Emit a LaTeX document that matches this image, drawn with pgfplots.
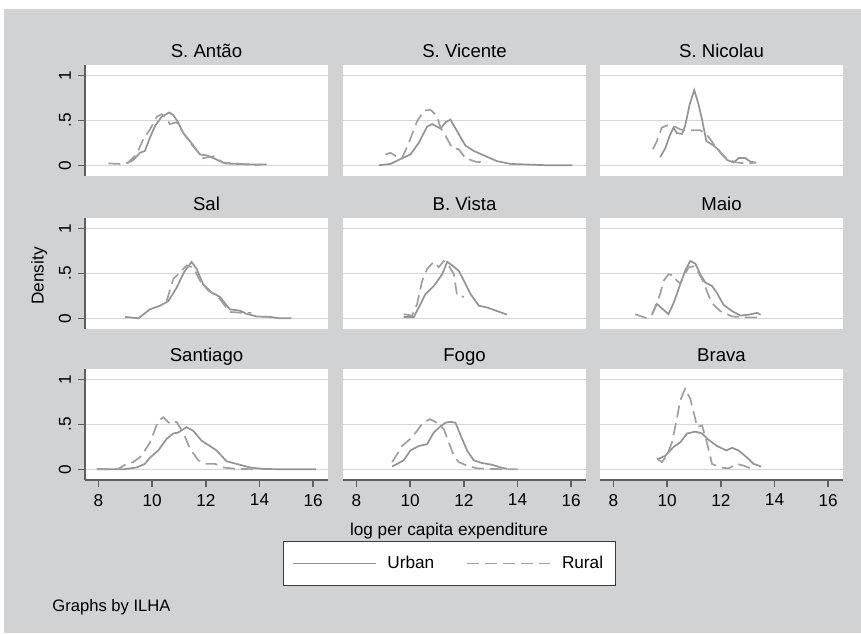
\documentclass[border=0pt]{standalone}
\usepackage{fontspec}
\setmainfont{Liberation Sans}
\usepackage{pgfplots}
\pgfplotsset{compat=1.18}
\definecolor{bgc}{RGB}{208,210,211}
\definecolor{gridc}{RGB}{214,214,214}
\definecolor{axc}{RGB}{95,95,95}
\definecolor{urbc}{RGB}{148,148,148}
\definecolor{rurc}{RGB}{160,160,160}
\definecolor{legc}{RGB}{60,60,60}

\pgfplotsset{
  panel/.style={
    scale only axis, width=121.5pt, height=55.5pt,
    xmin=7.5, xmax=16.55, ymin=-0.12, ymax=1.12,
    axis lines*=left,
    x axis line style={draw=none,-}, y axis line style={draw=none,-},
    xtick={8,10,12,14,16}, ytick={0,0.5,1},
    xticklabels={}, yticklabels={},
    tick align=outside, major tick length=3.5pt,
    xtick style={draw=none}, ytick style={draw=none},
    ymajorgrids, major grid style={draw=gridc, line width=0.75pt},
    axis background/.style={fill=white},
    /pgf/number format/assume math mode=true,
    tick label style={font=\fontsize{8.6}{10}\selectfont},
    every axis title shift=0pt,
    title style={at={(axis description cs:0.5,1)}, anchor=base, yshift=3.5pt, font=\fontsize{9.3}{11}\selectfont},
  },
  leftcol/.style={
    y axis line style={draw=axc, line width=0.75pt},
    ytick style={draw=axc, line width=0.75pt},
    yticklabels={0,.5,1}, yticklabel style={rotate=90, anchor=south},
  },
  bottomrow/.style={
    x axis line style={draw=axc, line width=0.75pt},
    xtick style={draw=axc, line width=0.75pt},
    xticklabels={8,10,12,14,16},
  },
  urb/.style={draw=urbc, line width=0.85pt, no marks},
  rur/.style={draw=rurc, line width=0.85pt, no marks, dash pattern=on 6pt off 3pt},
}

\begin{document}
\begin{tikzpicture}
\fill[white] (0,0) rectangle (430.5pt,316.5pt);
\fill[bgc] (2pt,0) rectangle (430.5pt,312pt);

% row 1
\begin{axis}[panel, leftcol, at={(42.5pt,228.5pt)}, title={S. Antão}]
\addplot[urb] coordinates {(9.05,0.02)(9.30,0.06)(9.55,0.14)(9.73,0.16)(9.92,0.31)(10.11,0.44)(10.35,0.54)(10.64,0.59)(10.79,0.56)(10.97,0.48)(11.16,0.36)(11.41,0.27)(11.78,0.12)(12.03,0.11)(12.28,0.08)(12.71,0.02)(13.14,0.015)(13.64,0.01)(14.26,0.01)};
\addplot[rur] coordinates {(8.37,0.02)(8.8,0.015)(9.1,0.03)(9.42,0.12)(9.67,0.29)(9.92,0.4)(10.17,0.54)(10.35,0.57)(10.54,0.53)(10.66,0.46)(10.91,0.48)(11.16,0.36)(11.53,0.21)(11.9,0.08)(12.28,0.1)(12.65,0.03)(13.14,0.02)(13.9,0.0)(14.1,0.01)};
\end{axis}
\begin{axis}[panel, at={(171.5pt,228.5pt)}, title={S. Vicente}]
\addplot[urb] coordinates {(8.83,0)(9.27,0.015)(9.64,0.07)(10.01,0.12)(10.32,0.25)(10.63,0.43)(10.82,0.46)(11.13,0.41)(11.32,0.48)(11.5,0.51)(11.75,0.38)(12.06,0.22)(12.37,0.16)(12.75,0.11)(13.24,0.045)(13.74,0.015)(14.48,0.007)(15.1,0)(16.04,0)};
\addplot[rur] coordinates {(9.08,0.12)(9.27,0.14)(9.52,0.09)(9.7,0.08)(9.95,0.25)(10.26,0.49)(10.51,0.61)(10.76,0.62)(11.0,0.55)(11.13,0.42)(11.32,0.33)(11.57,0.19)(11.81,0.18)(12.06,0.08)(12.43,0.04)(12.87,0.03)};
\end{axis}
\begin{axis}[panel, at={(300pt,228.5pt)}, title={S. Nicolau}]
\addplot[urb] coordinates {(9.74,0.09)(9.93,0.19)(10.11,0.34)(10.24,0.42)(10.36,0.36)(10.55,0.35)(10.67,0.44)(10.84,0.68)(11.01,0.84)(11.17,0.68)(11.3,0.51)(11.46,0.27)(11.73,0.22)(11.92,0.17)(12.23,0.06)(12.48,0.03)(12.66,0.08)(12.91,0.08)(13.1,0.04)(13.29,0.03)};
\addplot[rur] coordinates {(9.47,0.18)(9.62,0.27)(9.8,0.42)(10.05,0.45)(10.3,0.43)(10.49,0.40)(10.67,0.39)(10.92,0.39)(11.23,0.39)(11.42,0.36)(11.61,0.29)(11.79,0.21)(12.04,0.12)(12.29,0.06)(12.6,0.03)(12.98,0.02)(13.32,0.03)};
\end{axis}

% row 2
\begin{axis}[panel, leftcol, at={(42.5pt,152pt)}, title={Sal},
  ylabel={Density}, ylabel style={at={(axis description cs:-0.189,0.477)}, anchor=center, font=\fontsize{8.6}{10}\selectfont}]
\addplot[urb] coordinates {(8.99,0.015)(9.49,0)(9.92,0.1)(10.29,0.14)(10.6,0.19)(10.91,0.34)(11.18,0.51)(11.47,0.63)(11.66,0.55)(11.9,0.38)(12.21,0.29)(12.52,0.24)(12.89,0.10)(13.27,0.085)(13.51,0.05)(13.89,0.02)(14.38,0.015)(14.75,0)(15.19,0)};
\addplot[rur] coordinates {(10.54,0.19)(10.79,0.44)(11.04,0.51)(11.28,0.59)(11.53,0.57)(11.78,0.42)(12.09,0.31)(12.46,0.24)(12.89,0.07)(13.39,0.06)(13.7,0.06)};
\end{axis}
\begin{axis}[panel, at={(171.5pt,152pt)}, title={B. Vista}]
\addplot[urb] coordinates {(9.76,0.015)(10.14,0.015)(10.32,0.12)(10.57,0.27)(10.88,0.36)(11.19,0.49)(11.38,0.63)(11.57,0.59)(11.81,0.53)(12.0,0.42)(12.25,0.27)(12.56,0.14)(12.87,0.12)(13.24,0.08)(13.61,0.04)};
\addplot[rur] coordinates {(9.76,0.045)(10.07,0.03)(10.26,0.16)(10.45,0.42)(10.63,0.55)(10.88,0.63)(11.07,0.57)(11.25,0.64)(11.44,0.59)(11.63,0.49)(11.75,0.25)(12.0,0.24)};
\end{axis}
\begin{axis}[panel, at={(300pt,152pt)}, title={Maio}]
\addplot[urb] coordinates {(9.45,0.05)(9.62,0.16)(10.05,0.045)(10.24,0.17)(10.49,0.38)(10.67,0.53)(10.86,0.64)(11.05,0.61)(11.24,0.49)(11.42,0.40)(11.67,0.36)(11.86,0.28)(12.1,0.15)(12.42,0.08)(12.73,0.03)(13.04,0.04)(13.35,0.06)(13.48,0.04)};
\addplot[rur] coordinates {(8.81,0.045)(9.24,0)(9.43,0.04)(9.6,0.16)(9.74,0.27)(9.87,0.42)(10.05,0.49)(10.24,0.48)(10.36,0.42)(10.49,0.39)(10.62,0.47)(10.8,0.57)(10.99,0.58)(11.17,0.51)(11.36,0.40)(11.55,0.25)(11.73,0.15)(11.98,0.08)(12.42,0.02)(12.92,0.01)(13.48,0.01)};
\end{axis}

% row 3
\begin{axis}[panel, leftcol, bottomrow, at={(42.5pt,76.5pt)}, title={Santiago}]
\addplot[urb] coordinates {(7.94,0.0)(8.43,0)(8.93,0)(9.43,0.02)(9.73,0.06)(9.92,0.13)(10.23,0.21)(10.54,0.34)(10.79,0.40)(10.97,0.41)(11.28,0.47)(11.53,0.43)(11.84,0.32)(12.15,0.26)(12.4,0.21)(12.77,0.09)(13.14,0.06)(13.64,0.02)(14.13,0.004)(14.75,0)(16.1,0)};
\addplot[rur] coordinates {(7.94,0.005)(8.3,0)(8.74,0.005)(9.05,0.06)(9.3,0.08)(9.61,0.15)(9.92,0.30)(10.23,0.54)(10.42,0.58)(10.66,0.51)(10.91,0.53)(11.16,0.41)(11.41,0.23)(11.72,0.10)(12.03,0.06)(12.34,0.06)(12.65,0.02)(13.14,0.004)(13.89,0)};
\end{axis}
\begin{axis}[panel, bottomrow, at={(171.5pt,76.5pt)}, title={Fogo}]
\addplot[urb] coordinates {(9.33,0.03)(9.76,0.1)(10.01,0.21)(10.32,0.26)(10.63,0.28)(10.88,0.41)(11.13,0.48)(11.32,0.52)(11.5,0.53)(11.69,0.52)(11.88,0.38)(12.12,0.21)(12.37,0.1)(12.68,0.07)(13.06,0.05)(13.37,0.02)(13.62,0.004)};
\addplot[rur] coordinates {(9.33,0.08)(9.52,0.17)(9.7,0.26)(10.01,0.34)(10.26,0.43)(10.45,0.51)(10.73,0.56)(11.0,0.52)(11.25,0.45)(11.44,0.30)(11.63,0.15)(11.81,0.08)(12.12,0.04)(12.5,0.01)(13.0,0.004)(13.5,0)(14.0,0)};
\end{axis}
\begin{axis}[panel, bottomrow, at={(300pt,76.5pt)}, title={Brava}]
\addplot[urb] coordinates {(9.62,0.11)(9.93,0.15)(10.24,0.25)(10.49,0.3)(10.74,0.40)(11.05,0.42)(11.3,0.40)(11.54,0.33)(11.86,0.26)(12.2,0.21)(12.42,0.24)(12.66,0.21)(12.98,0.13)(13.22,0.06)(13.5,0.03)};
\addplot[rur] coordinates {(9.62,0.12)(9.8,0.08)(9.99,0.15)(10.18,0.30)(10.36,0.56)(10.49,0.77)(10.67,0.9)(10.86,0.79)(11.05,0.56)(11.11,0.47)(11.3,0.49)(11.48,0.30)(11.67,0.06)(11.98,0.02)(12.29,0.01)(12.6,0.06)(12.85,0.04)(13.16,0.004)};
\end{axis}

% legend only
\begin{axis}[hide axis, scale only axis, width=121.5pt, height=55.5pt, at={(171.5pt,76.5pt)},
  xmin=0, xmax=1, ymin=0, ymax=1,
  legend columns=2,
  legend style={at={(axis description cs:0.438,-0.752)}, anchor=center, draw=legc, fill=white, line width=0.5pt,
    font=\fontsize{8.6}{10}\selectfont, inner xsep=4pt, inner ysep=5pt,
    /tikz/every odd column/.append style={column sep=3.5pt},
    /tikz/every even column/.append style={column sep=14pt}},
  legend image code/.code={\draw[#1] (0pt,0pt) -- (41.5pt,0pt);}]
\addlegendimage{urb}
\addlegendentry{Urban}
\addlegendimage{rur}
\addlegendentry{Rural}
\end{axis}

\node[anchor=base, inner sep=0pt, font=\fontsize{8.6}{10}\selectfont] at (224.5pt,49pt) {log per capita expenditure};
\node[anchor=base west, inner sep=0pt, font=\fontsize{8.3}{10}\selectfont] at (26pt,11pt) {Graphs by ILHA};
\end{tikzpicture}
\end{document}
